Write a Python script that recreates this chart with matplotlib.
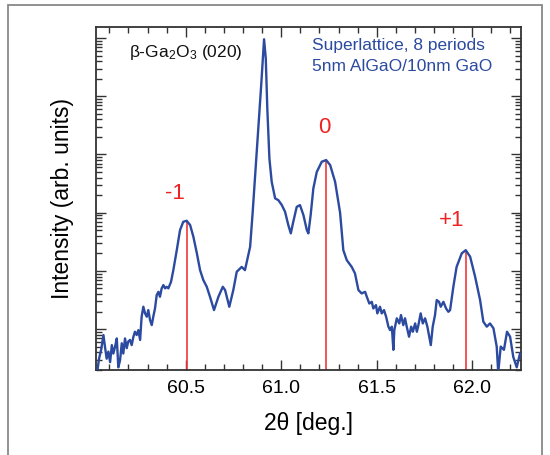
import matplotlib.pyplot as plt
from matplotlib.ticker import LogLocator, MultipleLocator, NullFormatter
from matplotlib.patches import Rectangle

plt.rcParams['font.family'] = ['Liberation Sans', 'DejaVu Sans']
plt.rcParams['mathtext.default'] = 'regular'

# XRD scan (2theta in deg, intensity in counts)
two_theta = [60.030, 60.039, 60.046, 60.057, 60.069, 60.077, 60.086, 60.095, 60.104, 60.113,
             60.121, 60.130, 60.139, 60.147, 60.156, 60.165, 60.173, 60.182, 60.191, 60.199,
             60.208, 60.217, 60.226, 60.234, 60.243, 60.252, 60.261, 60.269, 60.278, 60.287,
             60.296, 60.304, 60.313, 60.322, 60.330, 60.339, 60.348, 60.357, 60.365, 60.374,
             60.383, 60.392, 60.400, 60.409, 60.423, 60.435, 60.453, 60.470, 60.487, 60.505,
             60.523, 60.540, 60.558, 60.575, 60.592, 60.610, 60.627, 60.648, 60.671, 60.694,
             60.706, 60.728, 60.749, 60.767, 60.793, 60.810, 60.837, 60.850, 60.865, 60.880,
             60.895, 60.910, 60.919, 60.927, 60.938, 60.950, 60.968, 60.985, 61.003, 61.020,
             61.037, 61.050, 61.063, 61.081, 61.098, 61.116, 61.134, 61.142, 61.154, 61.168,
             61.186, 61.212, 61.235, 61.256, 61.282, 61.308, 61.325, 61.343, 61.369, 61.386,
             61.404, 61.421, 61.439, 61.448, 61.461, 61.474, 61.482, 61.496, 61.503, 61.517,
             61.526, 61.538, 61.549, 61.561, 61.570, 61.579, 61.587, 61.592, 61.605, 61.618,
             61.627, 61.639, 61.648, 61.657, 61.669, 61.680, 61.689, 61.701, 61.710, 61.718,
             61.730, 61.741, 61.753, 61.765, 61.775, 61.783, 61.793, 61.805, 61.814, 61.826,
             61.835, 61.849, 61.863, 61.875, 61.884, 61.901, 61.918, 61.945, 61.966, 61.989,
             62.015, 62.041, 62.058, 62.076, 62.093, 62.111, 62.128, 62.136, 62.149, 62.166,
             62.182, 62.198, 62.215, 62.233, 62.250]
intensity = [1.5, 2.1, 3.1, 4.4, 7.9, 5.0, 3.1, 4.1, 2.7, 5.3,
             3.8, 5.0, 6.9, 2.2, 2.9, 5.7, 3.8, 6.9, 4.7, 6.1,
             6.5, 5.3, 7.4, 9.0, 7.9, 9.6, 6.5, 16.3, 24.2, 18.6,
             16.3, 21.2, 14.3, 11.7, 16.3, 22.6, 38.4, 43.7, 35.9, 50.1,
             57.0, 50.1, 53.3, 50.1, 65.0, 103, 227, 501, 698, 726,
             612, 385, 202, 103, 69.5, 53.3, 35.9, 21.2, 35.9, 53.3,
             46.8, 24.2, 46.8, 96.6, 117, 103, 259, 977, 5250, 28800,
             155000, 955000, 447000, 61700, 8510, 3390, 1760, 1640, 1350, 1035,
             612, 441, 698, 1260, 1350, 912, 501, 441, 912, 2610,
             5010, 7500, 8020, 6580, 3390, 1000, 227, 153, 117, 90.6,
             46.8, 41.0, 43.7, 35.9, 27.5, 29.4, 22.6, 25.8, 18.6, 24.2,
             18.6, 21.2, 16.3, 11.0, 9.6, 11.0, 4.4, 9.6, 15.3, 12.5,
             17.4, 11.7, 15.3, 11.0, 7.4, 11.0, 9.0, 12.5, 9.0, 11.7,
             18.6, 12.5, 15.3, 11.0, 7.4, 5.3, 11.0, 17.4, 31.5, 29.4,
             24.2, 29.4, 22.6, 19.8, 21.2, 53.3, 117, 200, 227, 175,
             79.3, 31.5, 13.4, 11.0, 12.5, 10.3, 5.0, 1.8, 5.0, 4.4,
             9.0, 7.4, 3.3, 2.2, 3.8]

# superlattice satellite peaks
sat_pos = [60.505, 61.235, 61.966]
sat_peak = [726, 8020, 227]
sat_labels = ['-1', '0', '+1']
label_x = [60.442, 61.224, 61.893]
label_y = [2170, 29500, 747]

blue = '#2b4aa0'

fig = plt.figure(figsize=(5.5, 4.55), dpi=100)
ax = fig.add_axes([0.1745, 0.1868, 0.7727, 0.7538])

ax.plot(two_theta, intensity, color=blue, lw=1.7, zorder=3)
ylo, yhi = 1.98, 1.55e6
ax.vlines(sat_pos, ylo, sat_peak, color='#f03a3a', lw=1.2, zorder=2)
for x, y, s in zip(label_x, label_y, sat_labels):
    ax.text(x, y, s, color='#ee2222', fontsize=16, ha='center', va='center')

ax.set_yscale('log')
ax.set_xlim(60.03, 62.255)
ax.set_ylim(ylo, yhi)

ax.xaxis.set_major_locator(MultipleLocator(0.5))
ax.xaxis.set_minor_locator(MultipleLocator(0.1))
ax.xaxis.set_major_formatter(plt.FormatStrFormatter('%.1f'))
ax.yaxis.set_major_locator(LogLocator(base=10, numticks=20))
ax.yaxis.set_minor_locator(LogLocator(base=10, subs=range(2, 10), numticks=20))
ax.yaxis.set_major_formatter(NullFormatter())
ax.yaxis.set_minor_formatter(NullFormatter())

ax.tick_params(which='both', direction='in', top=True, right=True, width=1.0, color='#333333')
ax.tick_params(which='major', length=7, labelsize=14, pad=7)
ax.tick_params(which='minor', length=4)
for sp in ax.spines.values():
    sp.set_linewidth(1.3)
    sp.set_color('#333333')

ax.set_xlabel('2θ [deg.]', fontsize=16.5, labelpad=11)
ax.set_ylabel('Intensity (arb. units)', fontsize=16.5, labelpad=9)

ax.text(0.077, 0.926, r'β-Ga$_2$O$_3$ (020)', transform=ax.transAxes, fontsize=12.5,
        color='#111111', va='center', ha='left')
ax.text(0.508, 0.9475, 'Superlattice, 8 periods', transform=ax.transAxes,
        fontsize=12.5, color=blue, va='center', ha='left')
ax.text(0.508, 0.884, '5nm AlGaO/10nm GaO', transform=ax.transAxes,
        fontsize=12.5, color=blue, va='center', ha='left')

# grey frame around the figure panel
fig.patches.append(Rectangle((8 / 550, -0.05), 534 / 550, 1 - 5 / 455 + 0.05,
                             transform=fig.transFigure, fill=False,
                             edgecolor='#888888', lw=1.3))

fig.savefig('out.png', dpi=100)
